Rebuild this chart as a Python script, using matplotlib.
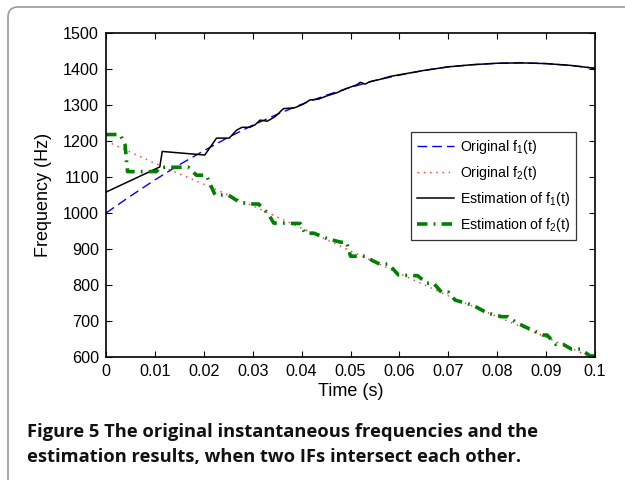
import matplotlib
matplotlib.use('Agg')
import numpy as np
from matplotlib import pyplot as plt
from matplotlib.patches import FancyBboxPatch

# original IF of component 1 (Hz)
t_f1 = [0, 0.005, 0.01, 0.015, 0.02, 0.025, 0.03, 0.035, 0.04, 0.045, 0.05,
        0.055, 0.06, 0.065, 0.07, 0.075, 0.08, 0.085, 0.09, 0.095, 0.1]
f1 = [1000, 1047, 1092, 1134, 1173, 1210, 1244, 1274, 1302, 1327, 1349,
      1368, 1383, 1396, 1406, 1412, 1416, 1417, 1415, 1410, 1402]

# original IF of component 2 (Hz)
t_f2 = [0, 0.01, 0.02, 0.03, 0.04, 0.05, 0.06, 0.07, 0.08, 0.09, 0.1]
f2 = [1200, 1138, 1080, 1020, 958, 895, 832, 770, 712, 655, 595]

# estimated IF of component 1
t_e1 = [0, 0.011, 0.0115, 0.0202, 0.0226, 0.0252, 0.0267, 0.0278, 0.0294,
        0.0305, 0.0315, 0.0330, 0.0346, 0.0363, 0.0385, 0.0403, 0.0417,
        0.0434, 0.0451, 0.0472, 0.0492, 0.0513, 0.0520, 0.0530, 0.0540,
        0.0560, 0.0580, 0.060, 0.065, 0.070, 0.075, 0.080, 0.085, 0.090,
        0.095, 0.100]
e1 = [1058, 1128, 1171, 1161, 1208, 1208, 1230, 1238, 1238, 1245, 1258,
      1255, 1268, 1290, 1292, 1302, 1314, 1316, 1325, 1334, 1346, 1356,
      1363, 1358, 1365, 1371, 1379, 1384, 1396, 1406, 1412, 1416, 1417,
      1415, 1410, 1402]

# estimated IF of component 2
t_e2 = [0, 0.0029, 0.0039, 0.0044, 0.0103, 0.0110, 0.0168, 0.0185, 0.0205,
        0.0223, 0.0250, 0.0272, 0.0290, 0.0312, 0.0332, 0.0343, 0.0365,
        0.0380, 0.0397, 0.0407, 0.0425, 0.0454, 0.0480, 0.0492, 0.0500,
        0.0530, 0.0546, 0.0560, 0.0578, 0.0598, 0.0625, 0.0637, 0.0656,
        0.0670, 0.0686, 0.0700, 0.0714, 0.075, 0.078, 0.0810, 0.0822,
        0.0840, 0.0863, 0.0894, 0.0902, 0.0920, 0.0935, 0.0952, 0.0970,
        0.0990, 0.1]
e2 = [1218, 1218, 1189, 1115, 1115, 1127, 1127, 1105, 1105, 1050, 1050,
      1031, 1025, 1025, 997, 972, 972, 971, 971, 944, 944, 928, 919, 919,
      880, 880, 867, 858, 858, 828, 826, 826, 805, 805, 780, 780, 758, 744,
      722, 712, 712, 695, 680, 661, 661, 635, 635, 622, 622, 603, 603]

x_ticks = [0, 0.01, 0.02, 0.03, 0.04, 0.05, 0.06, 0.07, 0.08, 0.09, 0.1]
x_labels = ['0', '0.01', '0.02', '0.03', '0.04', '0.05', '0.06', '0.07',
            '0.08', '0.09', '0.1']
y_ticks = [600, 700, 800, 900, 1000, 1100, 1200, 1300, 1400, 1500]

plt.rcParams['font.family'] = ['Liberation Sans', 'DejaVu Sans']
plt.rcParams['mathtext.fontset'] = 'custom'
plt.rcParams['mathtext.rm'] = 'Liberation Sans'

fig = plt.figure(figsize=(6.25, 4.8), dpi=100)

# background frame with rounded corners
bg = fig.add_axes([0, 0, 1, 1], zorder=0)
bg.set_xlim(0, 625)
bg.set_ylim(480, 0)
bg.axis('off')
bg.add_patch(FancyBboxPatch((8, 7), 700, 500,
                            boxstyle='round,pad=0,rounding_size=10',
                            facecolor='white', edgecolor='#9a9a9a',
                            linewidth=1.2))
bg.text(27, 437, 'Figure 5 The original instantaneous frequencies and the',
        fontsize=13.2, fontweight='bold', family='Open Sans', color='#111111')
bg.text(27, 462, 'estimation results, when two IFs intersect each other.',
        fontsize=13.2, fontweight='bold', family='Open Sans', color='#111111')

ax = fig.add_axes([106 / 625, 1 - 357 / 480, 489 / 625, 324 / 480], zorder=1)
ax.plot(t_f1, f1, color='#0000ff', linewidth=1, linestyle=(0, (7, 3.6)),
        label=r'Original f$_1$(t)')
ax.plot(t_f2, f2, color='#ff3030', linewidth=1, linestyle=(0, (1, 3.5)),
        label=r'Original f$_2$(t)')
ax.plot(t_e1, e1, color='black', linewidth=1.1,
        label=r'Estimation of f$_1$(t)')
ax.plot(t_e2, e2, color='#008000', linewidth=2.6,
        linestyle=(0, (2.9, 1.7, 0.5, 1.7)),
        label=r'Estimation of f$_2$(t)')

ax.set_xlim(0, 0.1)
ax.set_ylim(600, 1500)
ax.set_xticks(x_ticks)
ax.set_xticklabels(x_labels)
ax.set_yticks(y_ticks)
ax.tick_params(direction='in', top=True, right=True, length=4, width=0.8,
               labelsize=11.6, pad=5)
for s in ax.spines.values():
    s.set_linewidth(1.2)
ax.set_xlabel('Time (s)', fontsize=13, labelpad=3)
ax.set_ylabel('Frequency (Hz)', fontsize=13, labelpad=8)

leg = ax.legend(loc='upper right', bbox_to_anchor=(0.961, 0.695),
                borderaxespad=0, fontsize=10.2, frameon=True, fancybox=False,
                edgecolor='black', handlelength=2.6, handletextpad=0.45,
                labelspacing=0.58, borderpad=0.42)
leg.get_frame().set_linewidth(0.9)

fig.savefig('out.png', dpi=100)
